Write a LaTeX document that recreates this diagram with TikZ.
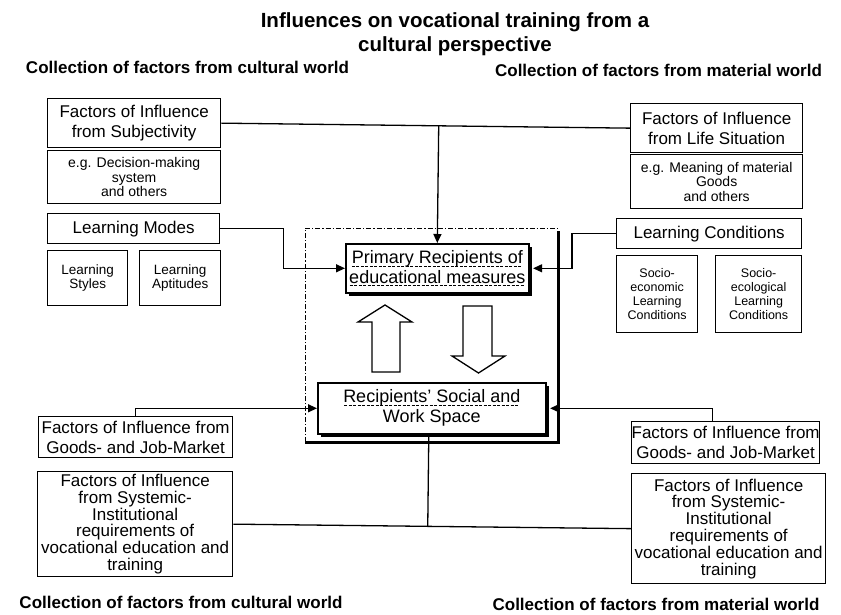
\documentclass[tikz,border=0pt]{standalone}
\usepackage{fontspec}
\setmainfont{Liberation Sans}
\usetikzlibrary{arrows.meta,shadows,calc}
\newcommand{\fsz}[2]{\fontsize{#1}{#2}\selectfont}
\newcommand{\dul}[1]{\setbox0=\hbox{#1}\leavevmode\rlap{\lower3pt\hbox to\wd0{\cleaders\hbox{\vrule width3pt height0.9pt\kern1.5pt}\hfill}}\box0}
\begin{document}
\begin{tikzpicture}[x=1pt,y=-1pt,
  box/.style={draw, line width=1.3pt, inner sep=0pt, align=center, anchor=north west, fill=white},
  big/.style={font=\fsz{17}{20}},
  small/.style={font=\fsz{14}{14.5}},
  tiny/.style={font=\fsz{12.5}{14.2}},
  lbl/.style={inner sep=0pt, align=center, font=\bfseries\fsz{17}{20}},
  conn/.style={line width=1.3pt},
  arr/.style={conn, -{Triangle[length=9pt,width=8pt]}},
  shbox/.style={box, line width=1.6pt, font=\fsz{18}{19.5},
    drop shadow={shadow xshift=3.5pt, shadow yshift=-3.5pt, fill=black, opacity=1}},
  hollow/.style={draw, line width=1.3pt, fill=white, miter limit=10},
]
\useasboundingbox (0,0) rectangle (841,615);

% titles
\node[inner sep=0pt, align=center, anchor=north, font=\bfseries\fsz{20.5}{24.5}] (title) at (455,12)
  {Influences on vocational training from a\\cultural perspective};
\node[lbl] (tl) at (187.5,67) {Collection of factors from cultural world};
\node[lbl] (tr) at (658.5,70) {Collection of factors from material world};
\node[lbl] (bl) at (181,602) {Collection of factors from cultural world};
\node[lbl] (br) at (656,604) {Collection of factors from material world};

% left boxes
\node[box, big, minimum width=173, minimum height=49] (subj) at (47,98) {Factors of Influence\\from Subjectivity};
\node[box, small, minimum width=173, minimum height=53] (subjeg) at (47,150) {e.g. Decision-making\\system\\and others};
\node[box, big, minimum width=172, minimum height=30] (modes) at (47,213) {Learning Modes};
\node[box, tiny, font=\fsz{13.5}{14.5}, minimum width=80, minimum height=55] (styles) at (47,250) {Learning\\Styles};
\node[box, tiny, font=\fsz{13.5}{14.5}, minimum width=81, minimum height=55] (apt) at (139,250) {Learning\\Aptitudes};

% right boxes
\node[box, big, minimum width=172, minimum height=49] (life) at (630,103) {Factors of Influence\\from Life Situation};
\node[box, small, minimum width=172, minimum height=54] (lifeeg) at (630,154) {e.g. Meaning of material\\Goods\\and others};
\node[box, big, minimum width=185, minimum height=30] (cond) at (616,218) {Learning Conditions};
\node[box, tiny, minimum width=81, minimum height=77] (soceco) at (616,255) {Socio-\\economic\\Learning\\Conditions};
\node[box, tiny, minimum width=86, minimum height=77] (socecol) at (715,255) {Socio-\\ecological\\Learning\\Conditions};

% bottom boxes
\node[box, big, minimum width=194, minimum height=41] (goodsL) at (38,416) {Factors of Influence from\\Goods- and Job-Market};
\node[box, big, minimum width=187, minimum height=42] (goodsR) at (631,421) {Factors of Influence from\\Goods- and Job-Market};
\node[box, font=\fsz{17}{16.8}, minimum width=195, minimum height=105] (sysL) at (37,471)
  {Factors of Influence\\from Systemic-\\Institutional\\requirements of\\vocational education and\\training};
\node[box, font=\fsz{17}{16.8}, minimum width=194, minimum height=110] (sysR) at (631,473)
  {Factors of Influence\\from Systemic-\\Institutional\\requirements of\\vocational education and\\training};

% central frame
\draw[line width=1pt, dash pattern=on 5pt off 2pt on 1.2pt off 2pt] (305,442) -- (305,228) -- (558,228);
\draw[line width=3pt] (558,231) -- (558,442) -- (305,442);

% central boxes
\node[shbox, minimum width=183, minimum height=49] (primary) at (345,243)
  {\dul{Primary Recipients of}\\\dul{educational measures}};
\node[shbox, font=\fsz{18}{20}, minimum width=228, minimum height=51] (recip) at (317,382)
  {\dul{Recipients' Social and}\\Work Space};

% hollow arrows
\draw[hollow] (372,372) -- (372,322) -- (358,322) -- (385,305) -- (412,322) -- (400,322) -- (400,372) -- cycle;
\draw[hollow] (463,306) -- (492,306) -- (492,356) -- (505,356) -- (478.5,373) -- (452,356) -- (463,356) -- cycle;

% connectors
\draw[conn] (subj.east) -- (life.west);
\draw[arr] ($(subj.east)!(primary.north)!(life.west)$) -- (primary.north);
\draw[arr] (modes.east) -- ++(63,0) |- (primary.west);
\draw[arr] (cond.west) -- ++(-44,0) |- ([xshift=3.5pt]primary.east);
\draw[arr] (goodsL.north) |- (recip.west);
\draw[arr] ([xshift=-13pt]goodsR.north) |- ([xshift=3.5pt]recip.east);
\draw[conn] (sysL.east) -- (sysR.west);
\draw[conn] ([xshift=-3pt]recip.south) -- ($(sysL.east)!([xshift=-3pt]recip.south)!(sysR.west)$);
\end{tikzpicture}
\end{document}
